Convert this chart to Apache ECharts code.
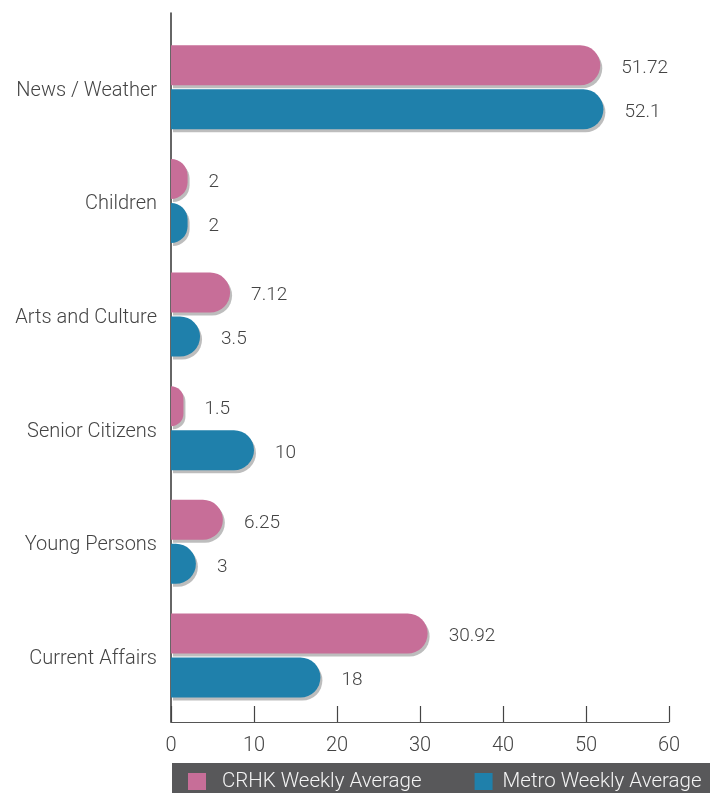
<!DOCTYPE html>
<html>
<head>
<meta charset="utf-8">
<script src="https://cdn.jsdelivr.net/npm/echarts@6/dist/echarts.min.js"></script>
<style>
  html, body { margin: 0; padding: 0; background: #fff; }
  #chart { width: 710px; height: 793px; }
</style>
</head>
<body>
<div id="chart"></div>
<script>
// Programme hours by genre: CRHK vs Metro weekly averages
var categories = ['News / Weather', 'Children', 'Arts and Culture', 'Senior Citizens', 'Young Persons', 'Current Affairs'];
var crhkValues = [51.72, 2, 7.12, 1.5, 6.25, 30.92];
var metroValues = [52.1, 2, 3.5, 10, 3, 18];
var seriesNames = ['CRHK Weekly Average', 'Metro Weekly Average'];
var xMin = 0, xMax = 60, xStep = 10;

var PINK = '#C76E98';
var BLUE = '#1F80AB';
var FONT = 'Roboto, "Liberation Sans", Arial, sans-serif';
var WEIGHT = 300;

var chart = echarts.init(document.getElementById('chart'), null, { renderer: 'canvas' });

function barSeries(name, values, color) {
  return {
    name: name,
    type: 'bar',
    xAxisIndex: 0,
    yAxisIndex: 0,
    data: values,
    barWidth: 40,
    barGap: '10%',
    itemStyle: {
      color: color,
      borderRadius: [0, 20, 20, 0],
      shadowColor: 'rgba(0,0,0,0.26)',
      shadowBlur: 0,
      shadowOffsetX: 2,
      shadowOffsetY: 3
    },
    label: {
      show: true,
      position: 'right',
      distance: 21,
      offset: [0, 3],
      color: '#444',
      fontFamily: FONT,
      fontWeight: WEIGHT,
      fontSize: 19,
      formatter: function (p) { return String(p.value); }
    },
    emphasis: { disabled: true }
  };
}

chart.setOption({
  animation: false,
  backgroundColor: '#fff',
  textStyle: { fontFamily: FONT, fontWeight: WEIGHT },
  graphic: [{
    type: 'rect',
    left: 172,
    top: 763,
    shape: { width: 538, height: 30 },
    style: { fill: '#58585A' },
    z: -1,
    silent: true
  }],
  legend: {
    data: [
      { name: seriesNames[0], textStyle: { padding: [0, 0, 0, 11] } },
      { name: seriesNames[1], textStyle: { padding: [0, 0, 0, 5] } }
    ],
    left: 188,
    top: 771,
    padding: 0,
    itemWidth: 18,
    itemHeight: 17,
    itemGap: 53,
    icon: 'rect',
    selectedMode: false,
    textStyle: {
      color: '#f4f4f4',
      fontSize: 20.5,
      fontFamily: FONT,
      fontWeight: WEIGHT
    }
  },
  grid: [
    { left: 171, right: 41, top: 30.5, height: 681.8, outerBoundsMode: 'none', containLabel: false },
    { left: 171, right: 41, top: 13, bottom: 71, outerBoundsMode: 'none', containLabel: false }
  ],
  xAxis: [
    {
      gridIndex: 0, type: 'value', min: xMin, max: xMax, interval: xStep,
      show: false
    },
    {
      gridIndex: 1, type: 'value', min: xMin, max: xMax, interval: xStep,
      axisLine: { show: true, lineStyle: { color: '#555', width: 1.2 } },
      axisTick: { show: true, inside: true, length: 16, lineStyle: { color: '#444', width: 1.2 } },
      axisLabel: { color: '#444', fontSize: 20, fontFamily: FONT, fontWeight: WEIGHT, margin: 14 },
      splitLine: { show: false }
    }
  ],
  yAxis: [
    {
      gridIndex: 0, type: 'category', data: categories, inverse: true,
      axisLine: { show: false },
      axisTick: { show: false },
      axisLabel: {
        color: '#444', fontSize: 20, fontFamily: FONT, fontWeight: WEIGHT,
        margin: 14, verticalAlign: 'top', lineHeight: 7
      },
      splitLine: { show: false }
    },
    {
      gridIndex: 1, type: 'value', min: 0, max: 1,
      axisLine: { show: true, lineStyle: { color: '#333', width: 1.5 } },
      axisTick: { show: false },
      axisLabel: { show: false },
      splitLine: { show: false }
    }
  ],
  series: [
    barSeries(seriesNames[0], crhkValues, PINK),
    barSeries(seriesNames[1], metroValues, BLUE)
  ]
});
</script>
</body>
</html>
